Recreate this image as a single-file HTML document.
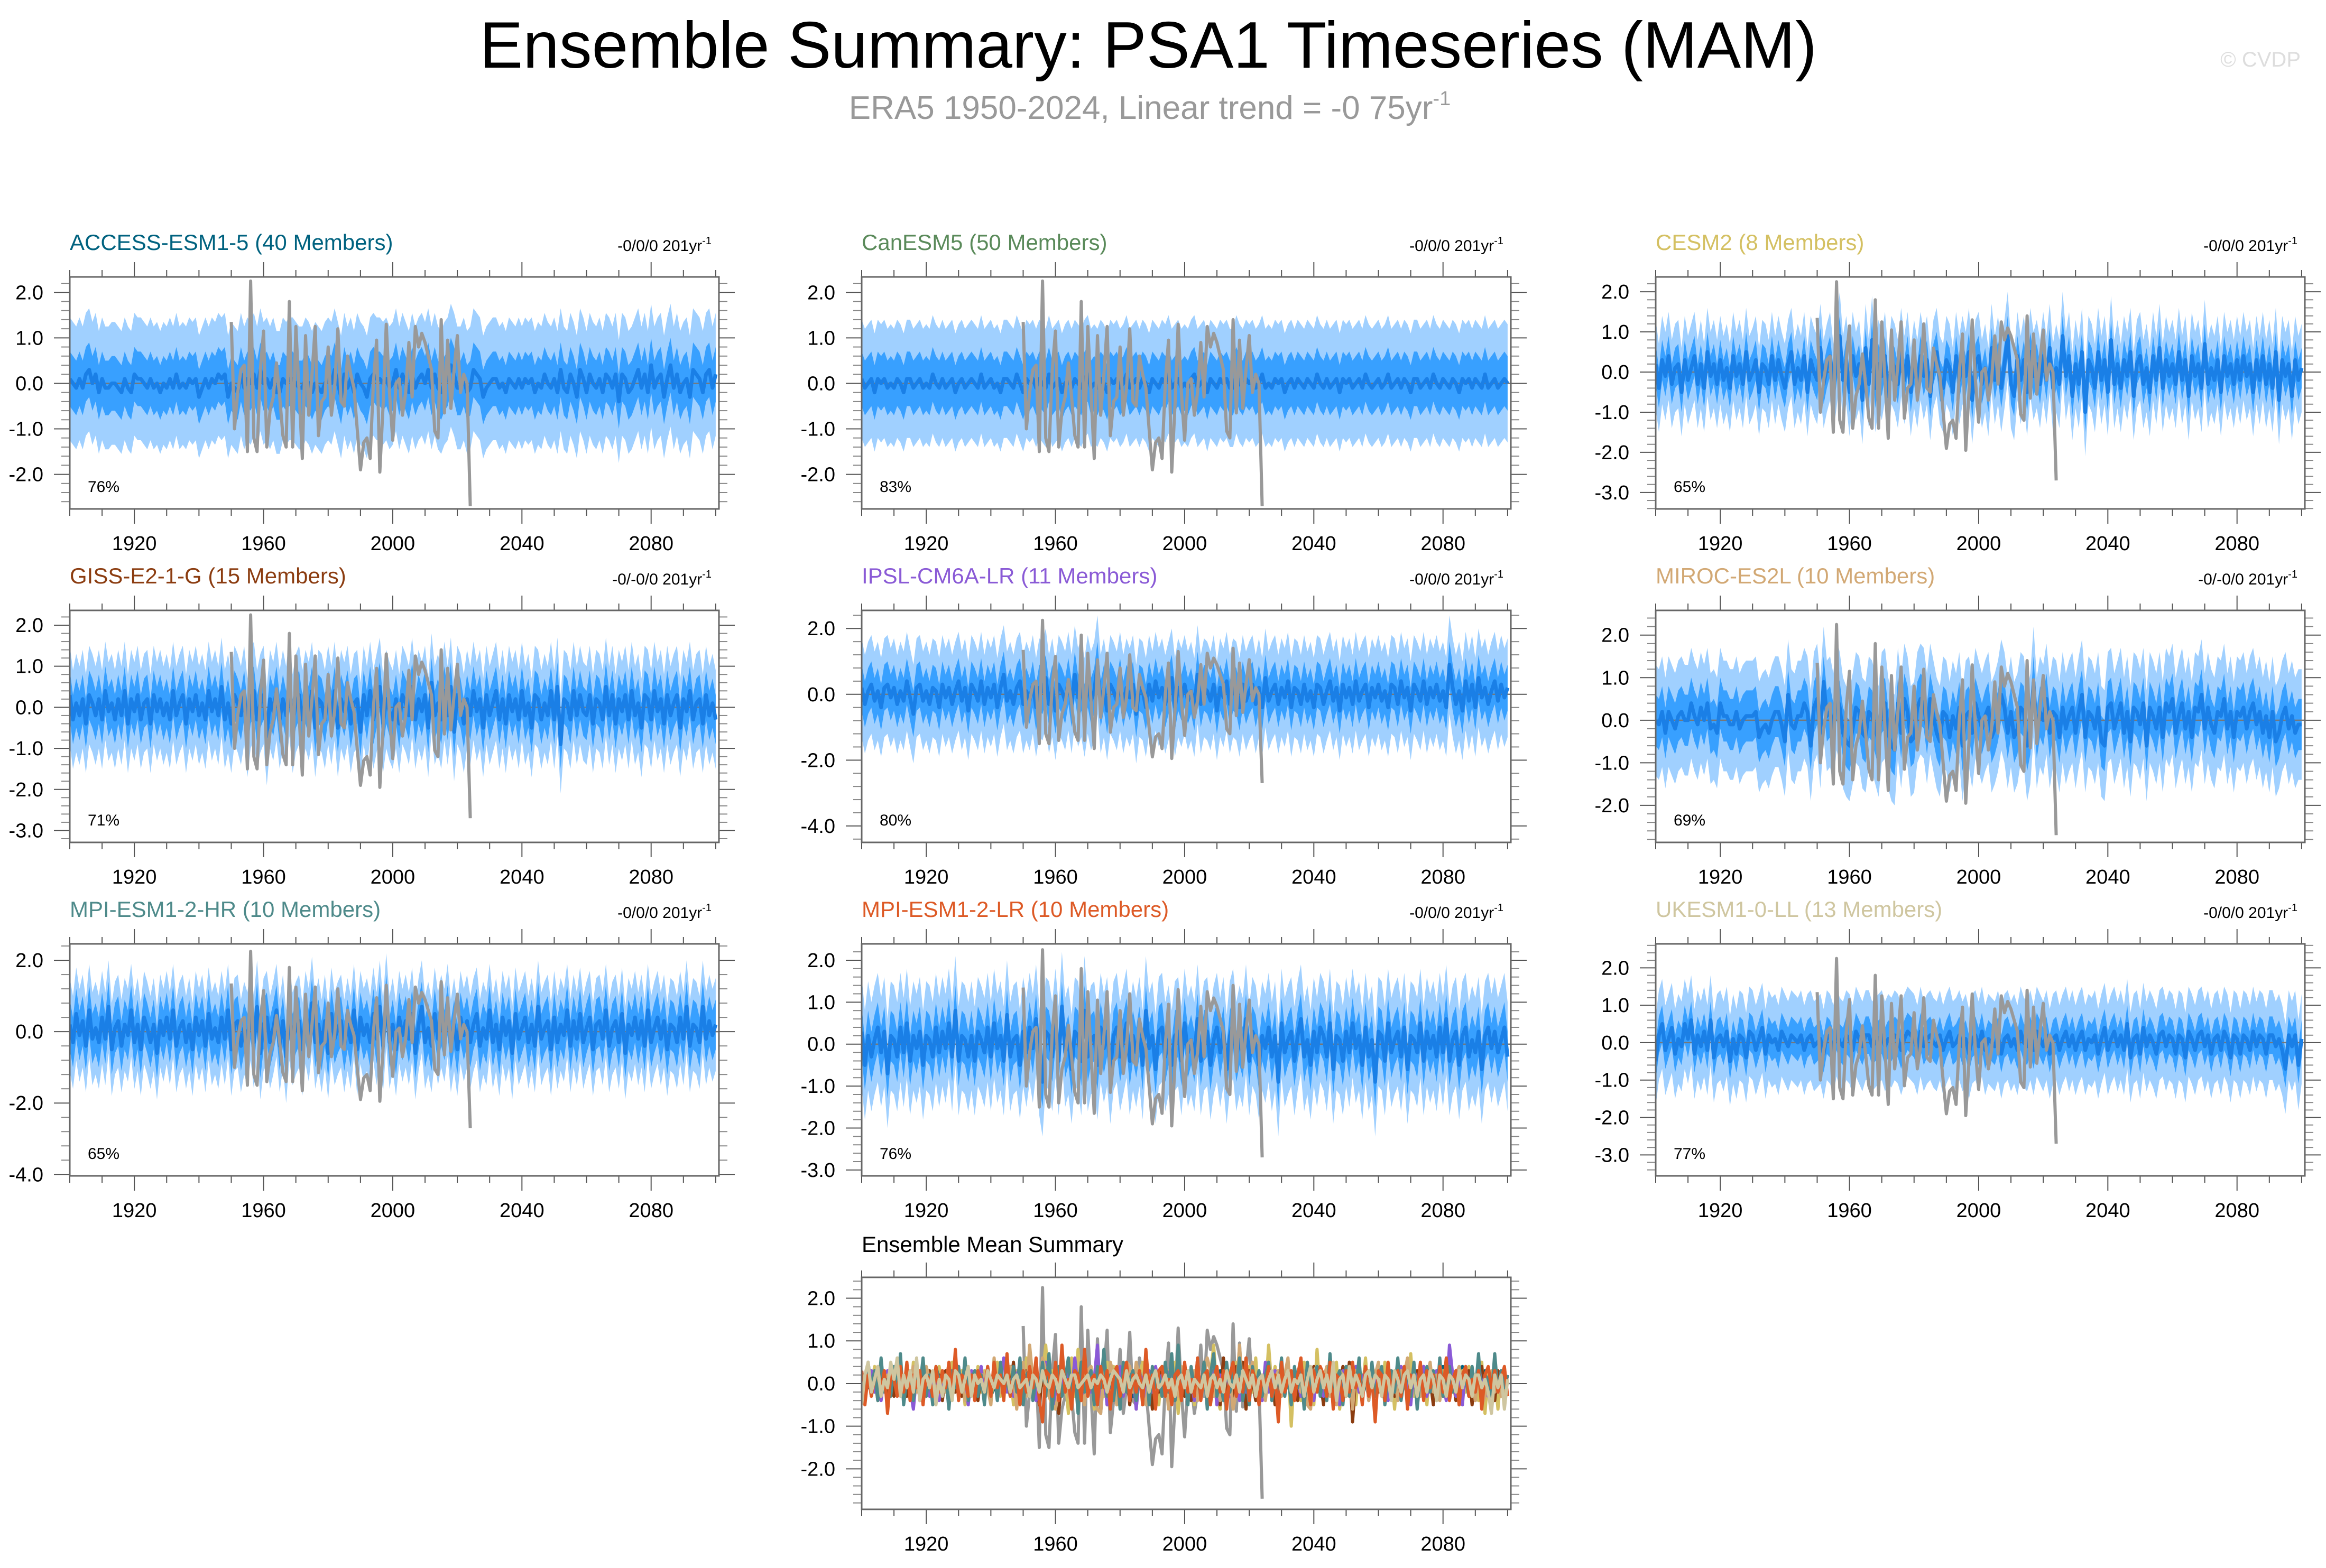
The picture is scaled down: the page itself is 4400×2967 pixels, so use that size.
<!DOCTYPE html>
<html><head><meta charset="utf-8"><title>Ensemble Summary: PSA1 Timeseries (MAM)</title>
<style>html,body{margin:0;padding:0;background:#fff}svg{display:block;font-family:"Liberation Sans",sans-serif}</style>
</head><body>
<svg id="chart" width="4400" height="2967" viewBox="0 0 4400 2967" xmlns="http://www.w3.org/2000/svg">
<rect width="4400" height="2967" fill="#fff"/>
<text x="2172" y="128" font-size="124" text-anchor="middle" textLength="2530" lengthAdjust="spacingAndGlyphs">Ensemble Summary: PSA1 Timeseries (MAM)</text>
<text x="2175" y="225" font-size="62" fill="#999" text-anchor="middle">ERA5 1950-2024, Linear trend = -0 75yr<tspan font-size="38" dy="-26">-1</tspan></text>
<text x="4352" y="126" font-size="40" fill="#ddd" text-anchor="end">© CVDP</text>
<g id="panels"></g>
</svg>
<script>
// Observed ERA5 PSA1 (1950-2024)
const obsYears0 = 1950;
const obsValues = [1.35,-1.0,-0.2,0.3,0.4,-1.5,2.25,-1.2,-1.5,0.3,1.15,-1.4,-0.6,-0.3,0.45,-0.3,-1.15,-1.4,1.8,-1.4,1.25,-0.2,-1.65,1.05,-0.7,0.2,1.25,-1.15,-0.4,-0.3,0.8,-0.7,-0.1,1.2,-0.4,-0.5,0.6,0.2,-0.1,-1.0,-1.9,-1.3,-1.2,-1.65,0.0,0.95,-1.95,-0.5,1.3,-0.2,-1.25,0.0,0.1,-0.7,-0.2,0.9,-0.3,1.25,0.8,1.1,0.9,0.6,0.3,-1.05,-1.2,1.4,-0.65,0.95,-0.55,0.3,1.05,-0.2,0.2,0.0,-2.7];
const xTickLabels = [1920,1960,2000,2040,2080];
const modelNames = ["ACCESS-ESM1-5 (40 Members)","CanESM5 (50 Members)","CESM2 (8 Members)","GISS-E2-1-G (15 Members)","IPSL-CM6A-LR (11 Members)","MIROC-ES2L (10 Members)","MPI-ESM1-2-HR (10 Members)","MPI-ESM1-2-LR (10 Members)","UKESM1-0-LL (13 Members)"];
const trendLabels = ["-0/0/0 201yr","-0/0/0 201yr","-0/0/0 201yr","-0/-0/0 201yr","-0/0/0 201yr","-0/-0/0 201yr","-0/0/0 201yr","-0/0/0 201yr","-0/0/0 201yr"];
const pctLabels = ["76%","83%","65%","71%","80%","69%","65%","76%","77%"];
const innerSpread = [0.6,0.6,0.5,0.6,0.7,0.6,0.7,0.6,0.5];
const outerSpread = [1.35,1.3,1.1,1.2,1.5,1.3,1.3,1.3,1.2];
const yLow = [-2.76,-2.76,-3.41,-3.29,-4.5,-2.87,-4.04,-3.14,-3.56];
const yHigh = [2.34,2.34,2.37,2.36,2.55,2.58,2.46,2.39,2.64];
const yTickLabels = [[-2,-1,0,1,2],[-2,-1,0,1,2],[-3,-2,-1,0,1,2],[-3,-2,-1,0,1,2],[-4,-2,0,2],[-2,-1,0,1,2],[-4,-2,0,2],[-3,-2,-1,0,1,2],[-3,-2,-1,0,1,2]];
const meanAccess = [.1,0,-.1,.1,-.1,.2,.3,0,.2,-.2,.1,-.1,-.1,0,0,-.1,-.2,.1,-.1,-.2,
.2,.1,.1,0,-.1,.1,-.1,0,-.2,0,-.1,.1,-.1,.2,-.1,0,-.1,.1,0,.1,
-.3,-.1,.1,-.1,.1,0,.2,.1,.2,-.3,0,-.1,-.2,.2,-.1,.1,0,.2,-.1,.3,
0,.1,-.1,.1,-.2,-.2,.1,0,.1,.1,0,-.1,-.1,.1,0,-.2,0,-.1,-.2,0,
.1,0,.3,0,-.3,.2,-.1,.1,-.2,.2,0,-.1,-.3,.1,.2,.1,.1,0,.1,-.1,
0,.3,-.1,.2,0,-.2,.2,-.1,.1,.2,0,.3,-.1,.2,-.1,-.2,0,.1,.4,.2,
-.1,-.1,.1,-.2,-.1,.3,.2,.1,-.3,-.1,0,.1,.1,-.1,0,-.2,.1,0,-.1,.1,
-.1,.1,0,.1,-.2,0,-.1,.2,0,-.1,.1,-.2,.3,-.1,-.2,.2,0,-.3,.3,.1,
-.2,.2,0,-.1,.1,-.2,.2,.1,-.1,.2,-.4,.2,.1,-.2,-.1,.1,.3,-.1,.2,-.2,
.4,-.1,.1,.2,-.3,.1,.4,-.1,.2,-.2,0,.1,-.3,.3,.2,.1,-.2,.2,.3,-.1,.2];
const meanCan = [.1,-.1,0,.1,-.2,.1,0,.1,-.1,0,-.1,.1,0,-.2,.1,.1,-.1,0,.1,-.1,
0,-.1,.2,0,-.1,.1,-.1,0,.1,-.2,0,.1,-.1,0,.1,0,-.1,.2,-.1,0,
.1,-.1,0,-.2,.1,.1,0,-.1,.2,0,-.2,.1,0,.1,-.1,.1,0,-.1,.2,-.1,
0,.1,-.2,0,.1,-.1,.1,0,-.1,.1,.2,-.1,0,-.1,.1,0,-.2,.1,0,.1,
-.1,0,.2,-.1,0,.1,-.1,.1,0,-.2,.1,0,-.1,.1,0,.2,-.1,0,.1,-.1,
0,-.1,.1,.2,-.1,0,.1,-.2,.1,0,-.1,.1,0,.1,-.1,-.1,.2,0,-.1,.1,
0,.1,-.1,0,.2,-.1,0,-.1,.1,0,.1,-.2,0,.1,-.1,.1,0,-.1,.1,0,
-.1,.2,0,-.1,.1,-.1,0,.1,-.2,.1,0,.1,-.1,0,.1,-.1,.2,0,-.1,0,
.1,-.1,0,.2,-.1,0,.1,-.1,.1,0,-.2,.1,.1,-.1,0,.1,-.1,.2,0,-.1,
.1,0,-.1,.1,0,-.2,.1,0,.1,-.1,.1,0,-.1,.2,-.1,0,.1,-.1,0,.1,0];
const meanCesm = [.2,-.4,.3,-.1,.4,-.3,.1,.2,-.5,.3,-.2,.1,.4,-.3,.2,-.4,.5,-.1,.2,-.3,
.3,-.2,.1,-.4,.4,-.1,.2,-.3,.5,-.2,0,.3,-.5,.2,.1,-.3,.4,-.2,.3,-.1,
-.4,.2,.5,-.3,.1,-.2,.4,-.5,.3,0,-.2,.6,-.3,.1,.4,-.4,.2,.9,-.2,.3,
-.5,.4,-.1,.2,-.7,.6,-.3,.8,-.4,.2,-.1,.4,-.6,.3,.1,-.3,.5,-.2,.4,-.5,
.2,-.3,.4,-.1,.3,-.6,.2,.5,-.2,-.4,.3,.1,-.5,.4,-.2,.3,-.1,.5,-.7,.2,
.4,-.3,.1,-.5,.6,-.2,.3,-.4,.2,.9,-.3,-.6,.4,-.2,.3,-.5,.5,-.1,.2,-.3,
.4,-.2,.6,-.4,.1,-.3,.9,-.1,.4,-.6,.2,-.3,.5,-1.0,.3,.1,-.4,.5,-.2,.3,
-.5,.8,-.3,.2,-.4,.3,-.1,.5,-.6,.2,.4,-.3,.1,-.5,.4,-.2,.6,-.4,.3,-.1,
.2,-.3,.5,-.2,.3,-.6,.4,-.1,.2,-.4,.7,-.3,.1,-.2,.3,-.5,.4,-.1,.2,-.3,
.3,-.2,.4,-.1,.2,-.5,.3,-.2,.4,-.3,.2,-.4,.5,-.7,.3,-.1,.2,-.6,.3,-.2,.1];
const meanGiss = [.3,-.3,.1,-.2,.2,-.4,.3,.1,-.2,.2,-.3,.4,-.1,.1,-.3,.2,-.2,.4,-.4,.2,
-.1,.3,-.3,.1,.2,-.4,.3,-.1,.2,-.2,.1,-.3,.4,-.2,.1,.3,-.4,.2,-.1,.3,
-.2,.1,-.3,.4,-.1,.2,-.2,.5,-.3,.1,-.4,.3,.1,-.2,.3,-.5,.2,.4,-.3,.1,
.3,-.7,.2,-.1,.4,-.3,.2,-.2,.5,-.4,.1,.3,-.3,.2,-.1,.4,-.5,.2,.1,-.3,
.3,-.2,.4,-.5,.2,-.1,.3,-.4,.1,.2,-.6,.3,-.2,.4,-.3,.1,.5,-.4,.2,-.1,
-.3,.2,-.4,.3,.1,-.2,.5,-.3,.2,-.1,.3,-.5,.6,-.2,.1,-.3,.4,-.2,.5,-.6,
.3,.1,-.4,.2,-.2,.4,-.1,.2,-.5,.3,-.2,.1,.4,-.3,.2,-.4,.3,-.1,.2,-.3,
.4,-.2,.1,-.5,.3,.2,-.3,.1,-.2,.4,-.3,.5,-.9,.2,.1,-.3,.4,-.2,.3,-.1,
-.2,.3,-.4,.2,.1,-.3,.5,-.2,.3,-.4,.2,-.1,.3,-.3,.4,-.2,.1,-.5,.3,.2,
-.3,.4,-.1,.2,-.4,.3,-.2,.1,.3,-.5,.2,-.1,.4,-.3,.1,.2,-.4,.3,-.2,.1,-.3];
const meanIpsl = [.2,-.3,.1,.3,-.2,.1,-.4,.2,.3,-.1,.2,-.3,.1,-.2,.4,-.1,-.6,.2,.3,-.2,
.1,-.3,.2,.1,-.4,.3,-.1,.2,-.3,.1,.4,-.2,.2,-.5,.3,.1,-.2,.4,-.3,.2,
-.1,.3,-.4,.2,.6,-.2,.1,-.3,.2,.4,-.3,.1,-.2,.3,-.4,.2,.1,.5,-.3,.2,
-.5,.3,.1,-.2,.4,-.3,.6,-.1,.2,-.4,.3,-.2,.1,.9,-.3,.2,-.5,.3,.1,-.2,
.4,-.3,.2,-.1,.3,-.6,.2,.1,-.4,.3,-.2,.4,-.1,.2,-.3,.1,.5,-.4,.2,-.1,
.3,-.2,.1,-.4,.6,-.3,.2,.1,-.2,.3,-.5,.2,-.1,.4,-.3,.2,.1,-.4,.3,-.2,
.1,.3,-.3,.2,-.4,.5,-.2,.1,.3,-.3,.2,-.1,.4,-.4,.2,.1,-.3,.3,-.2,.1,
-.4,.3,.2,-.3,.1,.4,-.2,.2,-.5,.3,-.1,.2,-.3,.4,-.2,.1,.3,-.4,.2,-.1,
.3,-.2,.1,-.4,.3,.2,-.3,.4,-.1,.2,-.5,.3,.1,-.2,.4,-.3,.2,-.1,.3,-.2,
.1,-.4,.9,.2,-.3,.1,-.5,.4,-.2,.3,-.4,.5,-.1,.2,-.3,.1,.4,-.2,.3,-.1,.2];
const meanMiroc = [0,-.1,.2,-.3,.2,0,-.2,.1,.2,0,0,.4,.1,-.1,.3,0,.4,-.2,-.1,-.3,
.4,.1,.1,-.1,-.1,.2,-.2,0,.1,.1,.1,.2,-.4,-.2,-.1,-.3,0,.2,.2,-.1,
-.5,.6,-.1,-.2,.1,.1,.4,.2,-.6,.3,.5,-.3,.9,.1,.2,-.2,.6,.3,-.3,-.5,
-.6,-.2,.3,.2,-.3,-.4,.2,.1,-.2,-.5,.3,.4,-.3,-.6,-.7,.4,-.3,.5,.2,-.5,
-.4,.3,.5,.4,-.2,.5,.1,-.3,-.5,.2,.1,-.4,.1,-.2,.3,-.6,.1,.2,-.3,.4,
.1,-.2,.1,.3,-.4,-.2,.1,.6,.3,-.3,.2,-.4,-.2,.3,.2,-.6,-.2,.9,-.3,.2,
0,.5,-.3,.2,.1,-.4,.3,-.2,.1,.3,-.3,.2,.6,-.4,.2,.1,-.2,.3,-.5,-.6,
.3,.4,-.2,.1,.4,-.3,.2,-.5,.3,.2,-.1,.4,-.6,.3,.1,-.2,.3,-.4,.4,.2,
.5,-.3,.1,.4,-.2,.2,-.4,.3,.2,.6,-.2,.3,-.1,-.3,.2,.1,.5,-.2,.2,-.4,
.2,.1,.3,-.2,.2,.4,-.1,.2,-.3,.1,-.4,.2,-.5,-.3,.1,.3,-.2,.1,-.3,-.1,-.1];
const meanMpiHr = [.2,-.3,.5,-.1,.3,-.4,.6,-.2,.1,-.3,.4,-.2,.7,-.5,.1,.3,-.4,.2,-.1,.6,
-.3,.2,-.5,.4,.1,-.3,.2,-.6,.3,-.1,.4,-.2,.6,-.4,.1,.3,-.3,.2,-.5,.4,
-.1,.3,-.4,.5,-.2,.1,-.3,.4,-.2,.6,-.5,.2,.3,-.4,.1,-.2,.5,-.3,.7,-.6,
.2,.4,-.3,.1,.6,-.4,.3,-.7,.5,-.2,.1,.3,-.5,.4,-.1,.8,-.3,.2,-.4,.3,
-.6,.5,-.2,.1,.3,-.4,.2,-.3,.6,-.5,.4,-.1,.2,-.3,.5,-.2,.7,-.4,.9,-.3,
.2,-.5,.4,-.1,.3,-.2,.5,-.6,.2,.7,-.3,.1,-.4,.5,-.2,.3,-.1,.6,-.4,.2,
-.5,.4,-.1,.3,-.3,.2,.5,-.4,.1,-.2,.6,-.3,.2,-.5,.4,-.1,.3,-.6,.5,-.2,
.1,.4,-.3,.2,-.4,.7,-.2,.1,.3,-.5,.4,-.3,.2,-.1,.6,-.4,.3,-.2,.5,-.3,
.1,.4,-.5,.2,.3,-.2,.6,-.4,.1,.3,-.3,.5,-.6,.2,-.1,.4,-.2,.3,-.4,.6,
-.3,.1,.4,-.2,.3,-.5,.2,.1,-.3,.4,-.2,.7,-.4,.2,.1,-.3,.7,-.2,.3,-.1,.2];
const meanMpiLr = [.3,-.5,.2,-.3,.1,.4,-.2,.3,-.7,.2,.1,-.3,.4,-.2,.5,-.4,.2,-.1,.3,-.5,
.2,.1,-.3,.4,-.2,.3,-.1,.5,-.3,.8,-.4,.2,.1,-.3,.2,-.4,.3,.1,-.2,.4,
-.3,.5,-.1,.2,-.4,.7,-.3,.1,.2,-.5,.3,-.2,.4,-.1,.6,-.4,-.9,.3,.2,-.3,
.5,-.4,.9,-.2,.1,-.6,.3,.2,-.4,.8,-.3,.1,.2,-.5,.4,-.1,.3,-.6,.2,.4,
-.3,.1,.5,-.4,.2,-.2,.3,-.5,.8,-.1,.2,-.6,.3,.4,-.3,.1,-.5,.2,.3,-.4,
.5,-.2,.1,-.3,.6,-.4,.2,.3,-.5,.1,.4,-.2,.3,-.6,.2,.5,-.3,.1,-.2,.6,
-.4,.3,.1,-.5,.2,-.1,.4,-.3,.2,-.9,.5,-.2,.1,.3,-.4,.2,.6,-.3,.1,-.5,
.3,-.2,.4,.2,-.3,.5,-.6,.2,.1,-.4,.3,-.2,.5,-.1,.2,-.5,.4,-.3,.1,-.9,
.3,.2,-.4,.5,-.2,.1,.3,-.3,.4,-.6,.2,.1,-.2,.5,-.4,.3,-.1,.2,-.3,.4,
-.2,.6,-.4,.1,.3,-.5,.2,.4,-.3,.1,-.2,.3,-.6,.2,.4,-.1,.3,-.2,.1,.4,-.3];
const meanUk = [-.5,.2,.5,-.2,.1,.4,-.3,.1,-.1,.5,.1,.6,-.3,.2,-.1,.3,-.2,.6,-.4,.1,
.2,-.1,.3,-.5,.1,-.3,.2,.1,-.4,.3,.2,-.2,.1,.4,-.3,.2,0,.1,-.2,.3,
.1,-.1,.2,.1,0,.2,-.2,.1,.2,-.1,0,.1,-.3,.2,.1,-.2,.3,0,-.1,.2,
.1,-.2,.3,.1,-.1,.2,.2,-.1,0,.1,.2,-.1,.1,0,.2,.1,-.2,.1,.3,.2,
.1,-.2,.3,-.1,.1,.2,0,-.1,.2,-.2,.1,.3,-.1,0,.2,-.1,.1,-.3,.1,.2,
-.1,.3,-.2,.1,0,-.1,.2,-.3,.1,.2,-.1,.1,-.2,.3,0,-.1,.2,-.2,.3,.1,
-.1,.2,-.3,.1,.2,-.2,.1,.3,-.1,.2,-.2,.1,.3,-.2,.1,0,.2,-.3,.1,.4,
-.2,.1,.3,-.1,.2,-.2,.5,-.4,.1,.2,-.3,.4,-.1,.2,0,-.3,.2,.3,-.1,.2,
.1,-.3,.2,.1,-.4,.3,.1,-.2,.2,.3,-.1,.2,-.3,.1,.2,-.2,.3,.1,-.4,.2,
.1,-.3,.2,.1,-.2,.3,-.1,.2,.1,-.3,.2,.2,-.1,.1,-.2,-.7,.2,-.1,.2,-.6,.1];
const meanSeries = [meanAccess,meanCan,meanCesm,meanGiss,meanIpsl,meanMiroc,meanMpiHr,meanMpiLr,meanUk];
const summaryYLow = -2.95, summaryYHigh = 2.49;
const summaryYTicks = [-2,-1,0,1,2];

// ---- layout (not data) ----
const NS="http://www.w3.org/2000/svg";
const root=document.getElementById('panels');
const colColors=["#00627f","#5a8a5a","#d4c062","#8b3c10","#8a5ad6","#d2a874","#4e8a8a","#dd5a26","#cfc6a0"];
const colX=[132,1630,3132], rowY=[524,1155,1786,2417], BW=1228, BH=439;
const X0=1900, X1=2101;
function el(tag,attrs,parent){const e=document.createElementNS(NS,tag);for(const k in attrs)e.setAttribute(k,attrs[k]);(parent||root).appendChild(e);return e;}
function txt(t,attrs,parent){const e=el('text',attrs,parent);e.textContent=t;return e;}

function drawAxes(g,L,T,lo,hi,yticks){
  const sx=y=>L+(y-X0)/(X1-X0)*BW, sy=v=>T+(hi-v)/(hi-lo)*BH;
  for(let yr=1900;yr<=2100;yr+=10){
    const major=xTickLabels.includes(yr), len=major?28:13, x=sx(yr);
    const t1=el('line',{x1:x,x2:x,y1:T,y2:T-len,stroke:'#555','stroke-width':2},g);
    
    
    const t2=el('line',{x1:x,x2:x,y1:T+BH,y2:T+BH+len,stroke:'#555','stroke-width':2},g);
    
    
  }
  xTickLabels.forEach(yr=>{
    const l=txt(String(yr),{x:sx(yr),y:T+BH+78,'font-size':38,'text-anchor':'middle'},g);
    
    
  });
  const step=yticks[1]-yticks[0], minor=step/5;
  for(let v=Math.ceil(lo/minor)*minor; v<=hi+1e-9; v+=minor){
    const isMaj=yticks.some(t=>Math.abs(t-v)<1e-6), len=isMaj?30:16, y=sy(v);
    const a=el('line',{x1:L,x2:L-len,y1:y,y2:y,stroke:isMaj?'#555':'#888','stroke-width':2},g);
    
    
    const b=el('line',{x1:L+BW,x2:L+BW+len,y1:y,y2:y,stroke:isMaj?'#555':'#888','stroke-width':2},g);
    
    
  }
  yticks.forEach(v=>{
    const l=txt(v.toFixed(1),{x:L-50,y:sy(v)+13,'font-size':38,'text-anchor':'end'},g);
    
    
  });
  return {sx,sy};
}
function pathOf(vals,start,sx,sy){return vals.map((v,i)=>(i?'L':'M')+sx(start+i).toFixed(1)+','+sy(v).toFixed(1)).join('');}
function bandPath(vals,w,sx,sy){
  const n=Math.min(vals.length,201);
  let d='';for(let i=0;i<n;i++)d+=(i?'L':'M')+sx(X0+i).toFixed(1)+','+sy(vals[i]+w).toFixed(1);
  for(let i=n-1;i>=0;i--)d+='L'+sx(X0+i).toFixed(1)+','+sy(vals[i]-w).toFixed(1);
  return d+'Z';
}

modelNames.forEach((name,k)=>{
  const L=colX[k%3], T=rowY[Math.floor(k/3)], lo=yLow[k], hi=yHigh[k];
  const g=el('g',{});
  
  
  const t=txt(name,{x:L,y:T-51,'font-size':42,fill:colColors[k]},g);
  
  
  const tr=txt(trendLabels[k],{x:L+BW-14,y:T-49,'font-size':30,'text-anchor':'end'},g);
  
  
  const sup=el('tspan',{'font-size':20,dy:-13},tr);sup.textContent='-1';
  const clipId='clip'+k;
  const cp=el('clipPath',{id:clipId},g);el('rect',{x:L,y:T,width:BW,height:BH},cp);
  const {sx,sy}=drawAxes(g,L,T,lo,hi,yTickLabels[k]);
  const pg=el('g',{'clip-path':'url(#'+clipId+')'},g);
  const m=meanSeries[k].slice(0,201);
  const ob=el('path',{d:bandPath(m,outerSpread[k],sx,sy),fill:'#a0d0ff'},pg);
  
  
  const ib=el('path',{d:bandPath(m,innerSpread[k],sx,sy),fill:'#38a0ff'},pg);
  
  
  const zl=el('line',{x1:L,x2:L+BW,y1:sy(0),y2:sy(0),stroke:'#777','stroke-width':2.5},pg);
  
  
  const ml=el('path',{d:pathOf(m,X0,sx,sy),fill:'none',stroke:'#1a7fe6','stroke-width':7,'stroke-linejoin':'round'},pg);
  
  
  const ol=el('path',{d:pathOf(obsValues,obsYears0,sx,sy),fill:'none',stroke:'#999','stroke-width':6,'stroke-linejoin':'round'},pg);
  
  
  const bx=el('rect',{x:L,y:T,width:BW,height:BH,fill:'none',stroke:'#666','stroke-width':3},g);
  
  
  const p=txt(pctLabels[k],{x:L+34,y:T+BH-32,'font-size':30},g);
  
  
});

// summary panel
(function(){
  const L=colX[1], T=rowY[3];
  const g=el('g',{});
  
  
  const t=txt('Ensemble Mean Summary',{x:L,y:T-48,'font-size':42},g);
  
  
  const cp=el('clipPath',{id:'clipS'},g);el('rect',{x:L,y:T,width:BW,height:BH},cp);
  const {sx,sy}=drawAxes(g,L,T,summaryYLow,summaryYHigh,summaryYTicks);
  const pg=el('g',{'clip-path':'url(#clipS)'},g);
  const zl=el('line',{x1:L,x2:L+BW,y1:sy(0),y2:sy(0),stroke:'#777','stroke-width':2.5},pg);
  
  
  const ol=el('path',{d:pathOf(obsValues,obsYears0,sx,sy),fill:'none',stroke:'#999','stroke-width':6,'stroke-linejoin':'round'},pg);
  
  
  meanSeries.forEach((s,k)=>{
    const ln=el('path',{d:pathOf(s.slice(0,201),X0,sx,sy),fill:'none',stroke:colColors[k],'stroke-width':6,'stroke-linejoin':'round'},pg);
    
    
  });
  const bx=el('rect',{x:L,y:T,width:BW,height:BH,fill:'none',stroke:'#666','stroke-width':3},g);
  
  
})();
</script>
</body></html>
